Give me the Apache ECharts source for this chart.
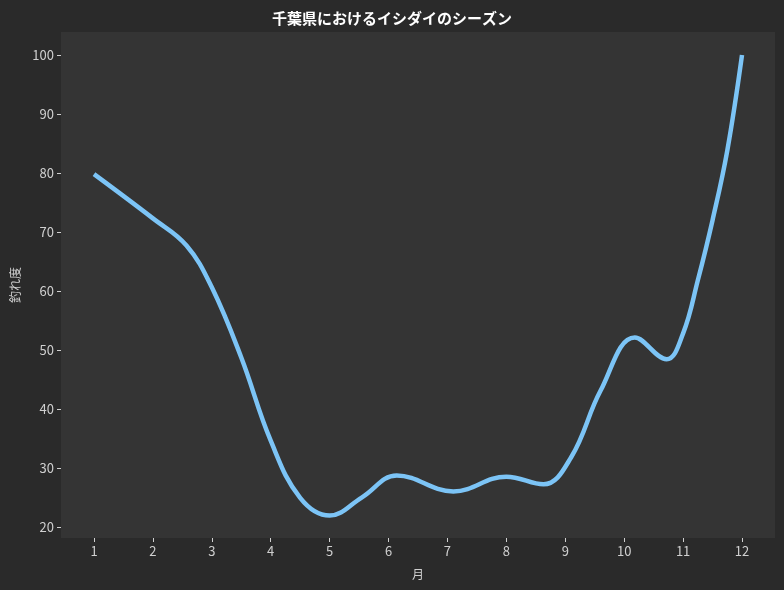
<!DOCTYPE html>
<html>
<head>
<meta charset="utf-8">
<script src="https://cdn.jsdelivr.net/npm/echarts@6/dist/echarts.min.js"></script>
<style>
  html, body { margin: 0; padding: 0; background: #2a2a2a; }
  #main { width: 784px; height: 590px; }
</style>
</head>
<body>
<div id="main"></div>
<script>
// month positions and catch rating
const months = [1, 2, 2.57, 3, 3.5, 4, 4.5, 5, 5.55, 6.14, 7.1, 8, 8.63, 9.1, 9.6, 10.18, 10.72, 11, 11.25, 11.5, 11.75, 12];
const rating = [79.8, 72.3, 67.7, 60.6, 48.7, 34.6, 24.9, 21.9, 25.0, 28.7, 26.0, 28.5, 27.2, 31.8, 43.1, 52.1, 48.4, 52.8, 61.8, 72.0, 83.8, 100];
const monthTicks = [1, 2, 3, 4, 5, 6, 7, 8, 9, 10, 11, 12];
const ratingTicks = [20, 30, 40, 50, 60, 70, 80, 90, 100];

const font = '"Noto Sans CJK JP", "Noto Sans", sans-serif';
const labelColor = '#d0d0d0';

document.addEventListener('DOMContentLoaded', function () {
    const data = months.map((m, i) => [m, rating[i]]);

    let options = {
        backgroundColor: '#2a2a2a',
        animation: false,
        title: {
            text: '千葉県におけるイシダイのシーズン',
            left: 'center',
            top: 6,
            textStyle: { color: '#ffffff', fontSize: 15, fontWeight: 'bold', fontFamily: font },
        },
        grid: {
            left: 61, right: 9, top: 32, bottom: 52,
            show: true,
            backgroundColor: '#343434',
            borderWidth: 0,
        },
        xAxis: {
            type: 'value',
            min: 0.44,
            max: 12.56,
            name: '月',
            nameLocation: 'middle',
            nameGap: 30,
            nameTextStyle: { color: labelColor, fontSize: 12, fontFamily: font },
            axisLine: { show: false },
            splitLine: { show: false },
            axisTick: { show: true, length: 4, customValues: monthTicks, lineStyle: { color: labelColor } },
            axisLabel: { customValues: monthTicks, color: labelColor, fontSize: 13, margin: 7, fontFamily: font },
        },
        yAxis: {
            type: 'value',
            min: 18.1,
            max: 103.9,
            name: '釣れ度',
            nameLocation: 'middle',
            nameGap: 37,
            nameTextStyle: { color: labelColor, fontSize: 12, fontFamily: font },
            axisLine: { show: false },
            splitLine: { show: false },
            axisTick: { show: true, length: 4, customValues: ratingTicks, lineStyle: { color: labelColor } },
            axisLabel: { customValues: ratingTicks, color: labelColor, fontSize: 13, margin: 7, fontFamily: font },
        },
        series: [{
            type: 'line',
            data: data,
            smooth: 0.4,
            showSymbol: false,
            lineStyle: { color: '#7cc4f6', width: 4.5, cap: 'butt' },
        }],
    };

    let myChart = echarts.init(document.getElementById('main'));
    myChart.setOption(options);
});
</script>
</body>
</html>
